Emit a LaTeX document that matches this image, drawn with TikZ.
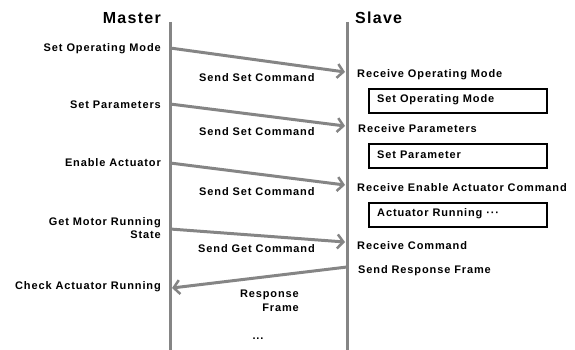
\documentclass[tikz,border=0pt]{standalone}
\usepackage{fontspec}
\setmainfont{Liberation Sans}[LetterSpace=8]
\usetikzlibrary{arrows.meta}
\definecolor{lg}{HTML}{858585}
\begin{document}
\begin{tikzpicture}[x=1pt,y=-1pt,
  lbl/.style={font=\fontsize{11}{13.5}\selectfont\bfseries,inner sep=0pt},
  ttl/.style={font=\fontsize{16}{19}\selectfont\bfseries,inner sep=0pt},
  life/.style={draw=lg,line width=3pt},
  msg/.style={draw=lg,line width=3pt,-{Straight Barb[length=6pt,width=14pt,line width=2.5pt]}},
  actbox/.style={draw=black,line width=2pt,fill=white,minimum width=178pt,minimum height=24pt,anchor=north west,inner sep=0pt}]
\useasboundingbox (0,0) rectangle (575,350);
% titles
\node[ttl,anchor=east] (mt) at (161,18) {Master};
\node[ttl,anchor=west] (st) at (355,18) {Slave};
% lifelines
\coordinate (mtop) at (170,22); \coordinate (mbot) at (170,351);
\coordinate (stop) at (347,22); \coordinate (sbot) at (347,351);
\draw[life] (mtop) -- (mbot);
\draw[life] (stop) -- (sbot);
% left labels
\node[lbl,anchor=east] (l1) at (161,49) {Set Operating Mode};
\node[lbl,anchor=east] (l2) at (161,105) {Set Parameters};
\node[lbl,anchor=east] (l3) at (161,163) {Enable Actuator};
\node[lbl,anchor=east,align=right] (l4) at (161,228) {Get Motor Running\\State};
\node[lbl,anchor=east] (l5) at (161,287) {Check Actuator Running};
% middle labels
\node[lbl,anchor=west] (c1) at (199,78) {Send Set Command};
\node[lbl,anchor=west] (c2) at (199,132) {Send Set Command};
\node[lbl,anchor=west] (c3) at (199,192) {Send Set Command};
\node[lbl,anchor=west] (c4) at (198,249) {Send Get Command};
\node[lbl,anchor=east,align=right] (c5) at (299,301) {Response\\Frame};
\node[lbl] (c6) at (258,339) {...};
% right labels
\node[lbl,anchor=west] (r1) at (357,75) {Receive Operating Mode};
\node[actbox] (b1) at (368,88) {};
\node[lbl,anchor=west] (b1t) at (377,100) {Set Operating Mode};
\node[lbl,anchor=west] (r2) at (358,129) {Receive Parameters};
\node[actbox] (b2) at (368,143) {};
\node[lbl,anchor=west] (b2t) at (377,155) {Set Parameter};
\node[lbl,anchor=west] (r3) at (357,188) {Receive Enable Actuator Command};
\node[actbox] (b3) at (368,202) {};
\node[lbl,anchor=west] (b3t) at (377,214) {Actuator Running \textperiodcentered\textperiodcentered\textperiodcentered};
\node[lbl,anchor=west] (r4) at (357,246) {Receive Command};
\node[lbl,anchor=west] (r5) at (358,271) {Send Response Frame};
% messages
\coordinate (m1) at (170,48); \coordinate (s1) at (345,72);
\coordinate (m2) at (170,104); \coordinate (s2) at (345,126);
\coordinate (m3) at (170,163); \coordinate (s3) at (345,185);
\coordinate (m4) at (170,229); \coordinate (s4) at (345,242);
\coordinate (s5) at (347,267); \coordinate (m5) at (172,288);
\draw[msg] (m1) -- (s1);
\draw[msg] (m2) -- (s2);
\draw[msg] (m3) -- (s3);
\draw[msg] (m4) -- (s4);
\draw[msg] (s5) -- (m5);
\end{tikzpicture}
\end{document}
